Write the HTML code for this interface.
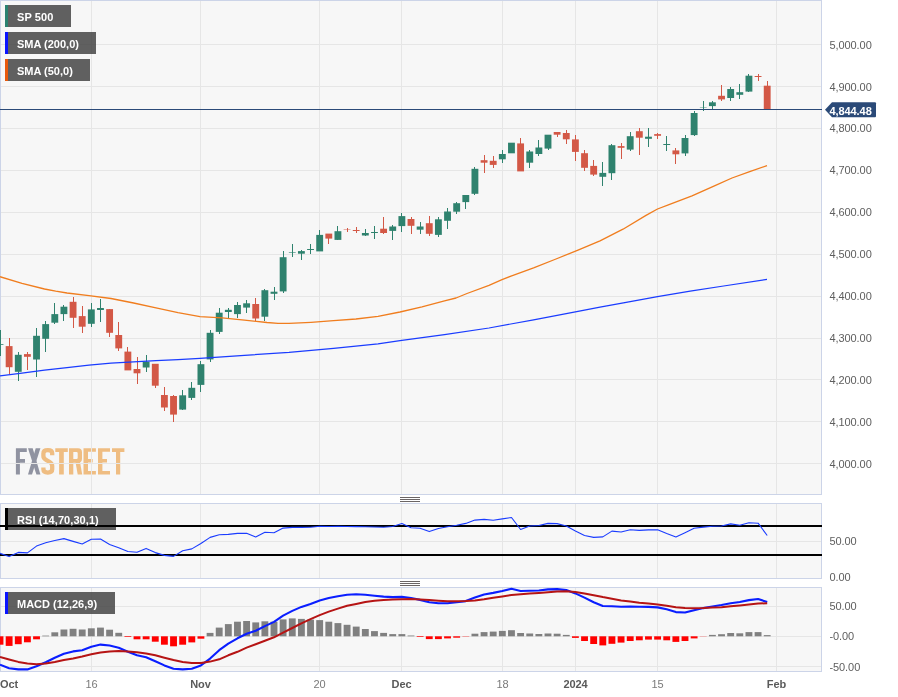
<!DOCTYPE html>
<html><head><meta charset="utf-8"><title>SP 500</title>
<style>html,body{margin:0;padding:0;background:#fff;overflow:hidden}body{width:898px;height:697px;font-family:"Liberation Sans",sans-serif}</style>
</head><body>
<svg width="898" height="697" viewBox="0 0 898 697" style="display:block;font-family:'Liberation Sans',sans-serif">
<rect width="898" height="697" fill="#fff"/>
<g shape-rendering="crispEdges">
<rect x="0" y="0" width="822" height="495" fill="#f7f7f7"/>
</g><g fill="#9093a1">
<path d="M15.9,448.3 H26.8 V452 H19.9 V459 H25 V462.7 H19.9 V474.4 H15.9 Z"/>
<path d="M28,448.3 H32.7 L40.4,474.4 H36.4 Z"/>
<path d="M35.7,448.3 H40.4 L32,474.4 H28 Z"/>
</g>
<g fill="#efbd82">
<path d="M52.2,455.2 V453.5 C52.2,451.2 50.5,450.2 47.8,450.2 C45.1,450.2 43.4,451.2 43.4,453.5 V456 C43.4,458 44.5,459 46,459.8 L49.8,462 C51.3,462.9 52.2,464 52.2,466 V469.3 C52.2,471.6 50.5,472.6 47.8,472.6 C45.1,472.6 43.4,471.6 43.4,469.3 V467.5" fill="none" stroke="#efbd82" stroke-width="4.3"/>
<path d="M55.3,448.3 H67.8 V452 H63.8 V474.4 H59.1 V452 H55.3 Z"/>
<path fill-rule="evenodd" d="M69,448.3 H78 Q82,448.3 82,452.3 V458.7 Q82,462.7 78,462.7 H73.3 V474.4 H69 Z M73.3,452 V459 H76.5 Q77.7,459 77.7,457.8 V453.2 Q77.7,452 76.5,452 Z"/>
<path d="M75.5,462 H80 L82.2,474.4 H77.7 Z"/>
<path d="M83.5,448.3 H95.9 V451.8 H88 V459 H92.7 V462.6 H88 V471 H95.9 V474.4 H83.5 Z"/>
<path d="M98,448.3 H110 V451.8 H102.4 V459 H107 V462.6 H102.4 V471 H110 V474.4 H98 Z"/>
<path d="M112,448.3 H124.4 V452 H120.2 V474.4 H116 V452 H112 Z"/>
</g>
<g shape-rendering="crispEdges">
<rect x="91" y="0" width="1" height="495" fill="#e6e6e6"/>
<rect x="200" y="0" width="1" height="495" fill="#e6e6e6"/>
<rect x="319" y="0" width="1" height="495" fill="#e6e6e6"/>
<rect x="401" y="0" width="1" height="495" fill="#e6e6e6"/>
<rect x="502" y="0" width="1" height="495" fill="#e6e6e6"/>
<rect x="575" y="0" width="1" height="495" fill="#e6e6e6"/>
<rect x="657" y="0" width="1" height="495" fill="#e6e6e6"/>
<rect x="776" y="0" width="1" height="495" fill="#e6e6e6"/>
<rect x="0" y="44" width="822" height="1" fill="#e6e6e6"/>
<rect x="0" y="86" width="822" height="1" fill="#e6e6e6"/>
<rect x="0" y="128" width="822" height="1" fill="#e6e6e6"/>
<rect x="0" y="170" width="822" height="1" fill="#e6e6e6"/>
<rect x="0" y="212" width="822" height="1" fill="#e6e6e6"/>
<rect x="0" y="254" width="822" height="1" fill="#e6e6e6"/>
<rect x="0" y="296" width="822" height="1" fill="#e6e6e6"/>
<rect x="0" y="338" width="822" height="1" fill="#e6e6e6"/>
<rect x="0" y="379" width="822" height="1" fill="#e6e6e6"/>
<rect x="0" y="421" width="822" height="1" fill="#e6e6e6"/>
<rect x="0" y="463" width="822" height="1" fill="#e6e6e6"/>
<rect x="0" y="0" width="822" height="1" fill="#ccd4e8"/>
<rect x="0" y="494" width="822" height="1" fill="#ccd4e8"/>
<rect x="0" y="0" width="1" height="495" fill="#ccd4e8"/>
<rect x="821" y="0" width="1" height="495" fill="#ccd4e8"/>
<rect x="0" y="503" width="822" height="76" fill="#f7f7f7"/>
<rect x="91" y="503" width="1" height="76" fill="#e6e6e6"/>
<rect x="200" y="503" width="1" height="76" fill="#e6e6e6"/>
<rect x="319" y="503" width="1" height="76" fill="#e6e6e6"/>
<rect x="401" y="503" width="1" height="76" fill="#e6e6e6"/>
<rect x="502" y="503" width="1" height="76" fill="#e6e6e6"/>
<rect x="575" y="503" width="1" height="76" fill="#e6e6e6"/>
<rect x="657" y="503" width="1" height="76" fill="#e6e6e6"/>
<rect x="776" y="503" width="1" height="76" fill="#e6e6e6"/>
<rect x="0" y="541" width="822" height="1" fill="#e6e6e6"/>
<rect x="0" y="503" width="822" height="1" fill="#ccd4e8"/>
<rect x="0" y="578" width="822" height="1" fill="#ccd4e8"/>
<rect x="0" y="503" width="1" height="76" fill="#ccd4e8"/>
<rect x="821" y="503" width="1" height="76" fill="#ccd4e8"/>
<rect x="0" y="587" width="822" height="85" fill="#f7f7f7"/>
<rect x="91" y="587" width="1" height="85" fill="#e6e6e6"/>
<rect x="200" y="587" width="1" height="85" fill="#e6e6e6"/>
<rect x="319" y="587" width="1" height="85" fill="#e6e6e6"/>
<rect x="401" y="587" width="1" height="85" fill="#e6e6e6"/>
<rect x="502" y="587" width="1" height="85" fill="#e6e6e6"/>
<rect x="575" y="587" width="1" height="85" fill="#e6e6e6"/>
<rect x="657" y="587" width="1" height="85" fill="#e6e6e6"/>
<rect x="776" y="587" width="1" height="85" fill="#e6e6e6"/>
<rect x="0" y="606" width="822" height="1" fill="#e6e6e6"/>
<rect x="0" y="636" width="822" height="1" fill="#e6e6e6"/>
<rect x="0" y="666" width="822" height="1" fill="#e6e6e6"/>
<rect x="0" y="587" width="822" height="1" fill="#ccd4e8"/>
<rect x="0" y="671" width="822" height="1" fill="#ccd4e8"/>
<rect x="0" y="587" width="1" height="85" fill="#ccd4e8"/>
<rect x="821" y="587" width="1" height="85" fill="#ccd4e8"/>
</g>
<rect x="0" y="330" width="1" height="26" fill="#2f826e" shape-rendering="crispEdges"/>
<rect x="-3.43" y="344" width="6.86" height="1" fill="#2f826e" opacity="0.8"/>
<rect x="9" y="338" width="1" height="36" fill="#d35846" shape-rendering="crispEdges"/>
<rect x="5.70" y="346.1" width="6.86" height="21.1" fill="#d35846"/>
<rect x="18" y="352" width="1" height="29" fill="#2f826e" shape-rendering="crispEdges"/>
<rect x="14.84" y="354.8" width="6.86" height="17.0" fill="#2f826e"/>
<rect x="27" y="352" width="1" height="18" fill="#d35846" shape-rendering="crispEdges"/>
<rect x="23.97" y="354.1" width="6.86" height="2.7" fill="#d35846"/>
<rect x="36" y="328" width="1" height="49" fill="#2f826e" shape-rendering="crispEdges"/>
<rect x="33.10" y="335.8" width="6.86" height="23.7" fill="#2f826e"/>
<rect x="45" y="321" width="1" height="31" fill="#2f826e" shape-rendering="crispEdges"/>
<rect x="42.24" y="324.1" width="6.86" height="14.7" fill="#2f826e"/>
<rect x="54" y="303" width="1" height="21" fill="#2f826e" shape-rendering="crispEdges"/>
<rect x="51.37" y="314.1" width="6.86" height="8.6" fill="#2f826e"/>
<rect x="63" y="305" width="1" height="16" fill="#2f826e" shape-rendering="crispEdges"/>
<rect x="60.50" y="306.7" width="6.86" height="7.4" fill="#2f826e"/>
<rect x="73" y="297" width="1" height="31" fill="#d35846" shape-rendering="crispEdges"/>
<rect x="69.64" y="301.8" width="6.86" height="16.0" fill="#d35846"/>
<rect x="82" y="306" width="1" height="27" fill="#d35846" shape-rendering="crispEdges"/>
<rect x="78.77" y="316.1" width="6.86" height="10.6" fill="#d35846"/>
<rect x="91" y="303" width="1" height="24" fill="#2f826e" shape-rendering="crispEdges"/>
<rect x="87.90" y="309.4" width="6.86" height="14.4" fill="#2f826e"/>
<rect x="100" y="299" width="1" height="23" fill="#2f826e" shape-rendering="crispEdges"/>
<rect x="97.04" y="308.0" width="6.86" height="2.0" fill="#2f826e"/>
<rect x="109" y="309" width="1" height="28" fill="#d35846" shape-rendering="crispEdges"/>
<rect x="106.17" y="309.1" width="6.86" height="23.7" fill="#d35846"/>
<rect x="118" y="322" width="1" height="29" fill="#d35846" shape-rendering="crispEdges"/>
<rect x="115.30" y="335.0" width="6.86" height="13.4" fill="#d35846"/>
<rect x="127" y="347" width="1" height="23" fill="#d35846" shape-rendering="crispEdges"/>
<rect x="124.44" y="351.6" width="6.86" height="18.8" fill="#d35846"/>
<rect x="137" y="357" width="1" height="27" fill="#d35846" shape-rendering="crispEdges"/>
<rect x="133.57" y="369.0" width="6.86" height="4.3" fill="#d35846"/>
<rect x="146" y="355" width="1" height="17" fill="#2f826e" shape-rendering="crispEdges"/>
<rect x="142.70" y="361.7" width="6.86" height="5.8" fill="#2f826e"/>
<rect x="155" y="364" width="1" height="24" fill="#d35846" shape-rendering="crispEdges"/>
<rect x="151.84" y="363.8" width="6.86" height="21.9" fill="#d35846"/>
<rect x="164" y="387" width="1" height="24" fill="#d35846" shape-rendering="crispEdges"/>
<rect x="160.97" y="395.0" width="6.86" height="12.5" fill="#d35846"/>
<rect x="173" y="395" width="1" height="27" fill="#d35846" shape-rendering="crispEdges"/>
<rect x="170.10" y="396.0" width="6.86" height="18.6" fill="#d35846"/>
<rect x="182" y="390" width="1" height="20" fill="#2f826e" shape-rendering="crispEdges"/>
<rect x="179.24" y="395.3" width="6.86" height="14.3" fill="#2f826e"/>
<rect x="191" y="382" width="1" height="18" fill="#2f826e" shape-rendering="crispEdges"/>
<rect x="188.37" y="387.8" width="6.86" height="10.1" fill="#2f826e"/>
<rect x="200" y="361" width="1" height="31" fill="#2f826e" shape-rendering="crispEdges"/>
<rect x="197.50" y="364.2" width="6.86" height="20.7" fill="#2f826e"/>
<rect x="210" y="330" width="1" height="32" fill="#2f826e" shape-rendering="crispEdges"/>
<rect x="206.64" y="332.8" width="6.86" height="26.6" fill="#2f826e"/>
<rect x="219" y="308" width="1" height="26" fill="#2f826e" shape-rendering="crispEdges"/>
<rect x="215.77" y="312.7" width="6.86" height="19.2" fill="#2f826e"/>
<rect x="228" y="308" width="1" height="10" fill="#2f826e" shape-rendering="crispEdges"/>
<rect x="224.90" y="309.8" width="6.86" height="2.2" fill="#2f826e"/>
<rect x="237" y="302" width="1" height="16" fill="#2f826e" shape-rendering="crispEdges"/>
<rect x="234.04" y="305.0" width="6.86" height="9.1" fill="#2f826e"/>
<rect x="246" y="300" width="1" height="13" fill="#2f826e" shape-rendering="crispEdges"/>
<rect x="243.17" y="303.3" width="6.86" height="4.3" fill="#2f826e"/>
<rect x="255" y="298" width="1" height="23" fill="#d35846" shape-rendering="crispEdges"/>
<rect x="252.30" y="304.0" width="6.86" height="14.5" fill="#d35846"/>
<rect x="264" y="289" width="1" height="32" fill="#2f826e" shape-rendering="crispEdges"/>
<rect x="261.44" y="290.2" width="6.86" height="26.5" fill="#2f826e"/>
<rect x="274" y="287" width="1" height="13" fill="#2f826e" shape-rendering="crispEdges"/>
<rect x="270.57" y="291.7" width="6.86" height="2.1" fill="#2f826e"/>
<rect x="283" y="251" width="1" height="42" fill="#2f826e" shape-rendering="crispEdges"/>
<rect x="279.70" y="257.2" width="6.86" height="34.2" fill="#2f826e"/>
<rect x="292" y="244" width="1" height="13" fill="#2f826e" shape-rendering="crispEdges"/>
<rect x="288.84" y="252" width="6.86" height="1" fill="#2f826e" opacity="0.6"/>
<rect x="301" y="250" width="1" height="10" fill="#2f826e" shape-rendering="crispEdges"/>
<rect x="297.97" y="251.1" width="6.86" height="2.6" fill="#2f826e"/>
<rect x="310" y="244" width="1" height="10" fill="#2f826e" shape-rendering="crispEdges"/>
<rect x="307.10" y="249" width="6.86" height="1" fill="#2f826e"/>
<rect x="319" y="230" width="1" height="21" fill="#2f826e" shape-rendering="crispEdges"/>
<rect x="316.24" y="234.9" width="6.86" height="16.5" fill="#2f826e"/>
<rect x="328" y="234" width="1" height="10" fill="#d35846" shape-rendering="crispEdges"/>
<rect x="325.37" y="233.6" width="6.86" height="5.0" fill="#d35846"/>
<rect x="337" y="226" width="1" height="14" fill="#2f826e" shape-rendering="crispEdges"/>
<rect x="334.50" y="231.2" width="6.86" height="8.7" fill="#2f826e"/>
<rect x="347" y="228" width="1" height="4" fill="#d35846" shape-rendering="crispEdges"/>
<rect x="343.64" y="229" width="6.86" height="1" fill="#d35846" opacity="0.45"/>
<rect x="356" y="227" width="1" height="6" fill="#d35846" shape-rendering="crispEdges"/>
<rect x="352.77" y="230" width="6.86" height="1" fill="#d35846"/>
<rect x="365" y="229" width="1" height="7" fill="#2f826e" shape-rendering="crispEdges"/>
<rect x="361.90" y="233.0" width="6.86" height="2.5" fill="#2f826e"/>
<rect x="374" y="226" width="1" height="13" fill="#2f826e" shape-rendering="crispEdges"/>
<rect x="371.04" y="232" width="6.86" height="1" fill="#2f826e"/>
<rect x="383" y="217" width="1" height="17" fill="#d35846" shape-rendering="crispEdges"/>
<rect x="380.17" y="228.7" width="6.86" height="4.3" fill="#d35846"/>
<rect x="392" y="225" width="1" height="15" fill="#2f826e" shape-rendering="crispEdges"/>
<rect x="389.30" y="226.5" width="6.86" height="4.4" fill="#2f826e"/>
<rect x="401" y="213" width="1" height="19" fill="#2f826e" shape-rendering="crispEdges"/>
<rect x="398.44" y="216.1" width="6.86" height="10.0" fill="#2f826e"/>
<rect x="411" y="217" width="1" height="17" fill="#d35846" shape-rendering="crispEdges"/>
<rect x="407.57" y="219.0" width="6.86" height="6.8" fill="#d35846"/>
<rect x="420" y="222" width="1" height="12" fill="#2f826e" shape-rendering="crispEdges"/>
<rect x="416.70" y="226.5" width="6.86" height="3.2" fill="#2f826e"/>
<rect x="429" y="216" width="1" height="20" fill="#d35846" shape-rendering="crispEdges"/>
<rect x="425.84" y="223.2" width="6.86" height="10.6" fill="#d35846"/>
<rect x="438" y="217" width="1" height="20" fill="#2f826e" shape-rendering="crispEdges"/>
<rect x="434.97" y="219.3" width="6.86" height="15.6" fill="#2f826e"/>
<rect x="447" y="208" width="1" height="21" fill="#2f826e" shape-rendering="crispEdges"/>
<rect x="444.10" y="211.5" width="6.86" height="9.3" fill="#2f826e"/>
<rect x="456" y="202" width="1" height="12" fill="#2f826e" shape-rendering="crispEdges"/>
<rect x="453.24" y="203.2" width="6.86" height="8.5" fill="#2f826e"/>
<rect x="465" y="195" width="1" height="14" fill="#2f826e" shape-rendering="crispEdges"/>
<rect x="462.37" y="195.0" width="6.86" height="7.1" fill="#2f826e"/>
<rect x="474" y="167" width="1" height="28" fill="#2f826e" shape-rendering="crispEdges"/>
<rect x="471.50" y="168.8" width="6.86" height="25.0" fill="#2f826e"/>
<rect x="484" y="155" width="1" height="18" fill="#d35846" shape-rendering="crispEdges"/>
<rect x="480.64" y="160.2" width="6.86" height="2.5" fill="#d35846"/>
<rect x="493" y="156" width="1" height="12" fill="#d35846" shape-rendering="crispEdges"/>
<rect x="489.77" y="160.8" width="6.86" height="4.1" fill="#d35846"/>
<rect x="502" y="150" width="1" height="13" fill="#2f826e" shape-rendering="crispEdges"/>
<rect x="498.90" y="154.0" width="6.86" height="5.3" fill="#2f826e"/>
<rect x="511" y="143" width="1" height="10" fill="#2f826e" shape-rendering="crispEdges"/>
<rect x="508.04" y="142.7" width="6.86" height="10.6" fill="#2f826e"/>
<rect x="520" y="138" width="1" height="33" fill="#d35846" shape-rendering="crispEdges"/>
<rect x="517.17" y="143.4" width="6.86" height="28.0" fill="#d35846"/>
<rect x="529" y="150" width="1" height="18" fill="#2f826e" shape-rendering="crispEdges"/>
<rect x="526.30" y="151.5" width="6.86" height="11.2" fill="#2f826e"/>
<rect x="538" y="140" width="1" height="16" fill="#2f826e" shape-rendering="crispEdges"/>
<rect x="535.44" y="147.5" width="6.86" height="6.5" fill="#2f826e"/>
<rect x="548" y="135" width="1" height="15" fill="#2f826e" shape-rendering="crispEdges"/>
<rect x="544.57" y="134.7" width="6.86" height="13.9" fill="#2f826e"/>
<rect x="557" y="132" width="1" height="5" fill="#d35846" shape-rendering="crispEdges"/>
<rect x="553.70" y="132.0" width="6.86" height="2.7" fill="#d35846"/>
<rect x="566" y="130" width="1" height="14" fill="#d35846" shape-rendering="crispEdges"/>
<rect x="562.84" y="133.0" width="6.86" height="6.3" fill="#d35846"/>
<rect x="575" y="135" width="1" height="26" fill="#d35846" shape-rendering="crispEdges"/>
<rect x="571.97" y="139.4" width="6.86" height="12.5" fill="#d35846"/>
<rect x="584" y="150" width="1" height="21" fill="#d35846" shape-rendering="crispEdges"/>
<rect x="581.10" y="153.2" width="6.86" height="14.6" fill="#d35846"/>
<rect x="593" y="160" width="1" height="16" fill="#d35846" shape-rendering="crispEdges"/>
<rect x="590.24" y="165.9" width="6.86" height="8.7" fill="#d35846"/>
<rect x="602" y="162" width="1" height="24" fill="#2f826e" shape-rendering="crispEdges"/>
<rect x="599.37" y="172.9" width="6.86" height="3.9" fill="#2f826e"/>
<rect x="611" y="144" width="1" height="36" fill="#2f826e" shape-rendering="crispEdges"/>
<rect x="608.50" y="145.2" width="6.86" height="28.0" fill="#2f826e"/>
<rect x="621" y="143" width="1" height="16" fill="#d35846" shape-rendering="crispEdges"/>
<rect x="617.64" y="146.1" width="6.86" height="1.7" fill="#d35846"/>
<rect x="630" y="132" width="1" height="19" fill="#2f826e" shape-rendering="crispEdges"/>
<rect x="626.77" y="136.2" width="6.86" height="13.4" fill="#2f826e"/>
<rect x="639" y="128" width="1" height="27" fill="#d35846" shape-rendering="crispEdges"/>
<rect x="635.90" y="131.2" width="6.86" height="6.5" fill="#d35846"/>
<rect x="648" y="128" width="1" height="19" fill="#2f826e" shape-rendering="crispEdges"/>
<rect x="645.04" y="136.7" width="6.86" height="2.1" fill="#2f826e"/>
<rect x="657" y="133" width="1" height="6" fill="#d35846" shape-rendering="crispEdges"/>
<rect x="654.17" y="134.1" width="6.86" height="1.7" fill="#d35846"/>
<rect x="666" y="136" width="1" height="15" fill="#2f826e" shape-rendering="crispEdges"/>
<rect x="663.30" y="144" width="6.86" height="1" fill="#2f826e"/>
<rect x="675" y="148" width="1" height="16" fill="#d35846" shape-rendering="crispEdges"/>
<rect x="672.44" y="150.4" width="6.86" height="3.9" fill="#d35846"/>
<rect x="685" y="135" width="1" height="21" fill="#2f826e" shape-rendering="crispEdges"/>
<rect x="681.57" y="138.0" width="6.86" height="15.4" fill="#2f826e"/>
<rect x="694" y="111" width="1" height="25" fill="#2f826e" shape-rendering="crispEdges"/>
<rect x="690.70" y="113.0" width="6.86" height="22.1" fill="#2f826e"/>
<rect x="703" y="101" width="1" height="10" fill="#2f826e" shape-rendering="crispEdges"/>
<rect x="699.84" y="107" width="6.86" height="1" fill="#2f826e" opacity="0.4"/>
<rect x="712" y="101" width="1" height="8" fill="#2f826e" shape-rendering="crispEdges"/>
<rect x="708.97" y="102.3" width="6.86" height="3.8" fill="#2f826e"/>
<rect x="721" y="85" width="1" height="16" fill="#d35846" shape-rendering="crispEdges"/>
<rect x="718.10" y="95.8" width="6.86" height="3.6" fill="#d35846"/>
<rect x="730" y="87" width="1" height="14" fill="#2f826e" shape-rendering="crispEdges"/>
<rect x="727.24" y="89.0" width="6.86" height="9.0" fill="#2f826e"/>
<rect x="739" y="84" width="1" height="15" fill="#2f826e" shape-rendering="crispEdges"/>
<rect x="736.37" y="92.2" width="6.86" height="2.6" fill="#2f826e"/>
<rect x="748" y="74" width="1" height="18" fill="#2f826e" shape-rendering="crispEdges"/>
<rect x="745.50" y="75.7" width="6.86" height="15.9" fill="#2f826e"/>
<rect x="758" y="74" width="1" height="7" fill="#d35846" shape-rendering="crispEdges"/>
<rect x="754.64" y="76" width="6.86" height="1" fill="#d35846"/>
<rect x="767" y="81" width="1" height="28" fill="#d35846" shape-rendering="crispEdges"/>
<rect x="763.77" y="85.7" width="6.86" height="23.6" fill="#d35846"/>
<path d="M0.0,375.8 L22.0,373.1 L44.5,370.2 L67.0,367.6 L89.0,365.1 L111.0,363.1 L133.6,361.8 L156.0,360.7 L178.0,359.6 L200.0,358.4 L244.5,355.3 L289.0,352.4 L333.6,348.4 L378.0,343.9 L400.0,340.7 L444.5,334.7 L489.0,328.0 L533.6,319.8 L578.0,311.3 L600.0,307.2 L623.4,302.8 L657.5,296.6 L690.2,291.2 L723.6,286.0 L767.0,279.4" fill="none" stroke="#1a3cff" stroke-width="1.2" stroke-linejoin="round"/>
<path d="M0.0,276.7 L22.0,283.4 L44.5,289.0 L55.7,291.2 L67.0,293.0 L89.0,295.6 L111.0,298.5 L133.6,303.0 L156.0,307.9 L178.0,312.6 L200.0,316.6 L222.0,317.8 L244.5,320.1 L267.0,322.5 L278.0,323.4 L289.0,323.4 L311.0,322.3 L333.6,320.7 L356.0,319.0 L378.0,316.3 L400.0,312.0 L422.0,306.9 L444.5,300.8 L456.0,298.0 L467.0,293.5 L489.0,285.3 L502.0,279.7 L511.0,276.1 L533.6,267.9 L556.0,259.0 L578.0,250.1 L600.0,240.9 L623.0,229.2 L646.0,215.4 L657.5,209.0 L669.0,204.6 L692.0,195.9 L715.0,185.6 L732.0,178.0 L749.0,171.8 L767.0,165.6" fill="none" stroke="#f07d1e" stroke-width="1.3" stroke-linejoin="round"/>
<rect x="0" y="109" width="822" height="1" fill="#2b4a78" shape-rendering="crispEdges"/>
<rect x="-3.43" y="636.3" width="6.86" height="8.4" fill="#ff0000"/>
<rect x="5.70" y="636.3" width="6.86" height="9.6" fill="#ff0000"/>
<rect x="14.84" y="636.3" width="6.86" height="7.9" fill="#ff0000"/>
<rect x="23.97" y="636.3" width="6.86" height="6.0" fill="#ff0000"/>
<rect x="33.10" y="636.3" width="6.86" height="3.0" fill="#ff0000"/>
<rect x="42.24" y="635.6" width="6.86" height="0.7" fill="#808080"/>
<rect x="51.37" y="632.3" width="6.86" height="4.0" fill="#808080"/>
<rect x="60.50" y="629.5" width="6.86" height="6.8" fill="#808080"/>
<rect x="69.64" y="628.8" width="6.86" height="7.5" fill="#808080"/>
<rect x="78.77" y="629.5" width="6.86" height="6.8" fill="#808080"/>
<rect x="87.90" y="628.3" width="6.86" height="8.0" fill="#808080"/>
<rect x="97.04" y="627.6" width="6.86" height="8.7" fill="#808080"/>
<rect x="106.17" y="629.7" width="6.86" height="6.6" fill="#808080"/>
<rect x="115.30" y="632.8" width="6.86" height="3.5" fill="#808080"/>
<rect x="124.44" y="636.3" width="6.86" height="0.7" fill="#ff0000"/>
<rect x="133.57" y="636.3" width="6.86" height="3.0" fill="#ff0000"/>
<rect x="142.70" y="636.3" width="6.86" height="3.0" fill="#ff0000"/>
<rect x="151.84" y="636.3" width="6.86" height="5.4" fill="#ff0000"/>
<rect x="160.97" y="636.3" width="6.86" height="8.4" fill="#ff0000"/>
<rect x="170.10" y="636.3" width="6.86" height="10.0" fill="#ff0000"/>
<rect x="179.24" y="636.3" width="6.86" height="8.4" fill="#ff0000"/>
<rect x="188.37" y="636.3" width="6.86" height="6.1" fill="#ff0000"/>
<rect x="197.50" y="636.3" width="6.86" height="2.4" fill="#ff0000"/>
<rect x="206.64" y="632.9" width="6.86" height="3.4" fill="#808080"/>
<rect x="215.77" y="627.6" width="6.86" height="8.7" fill="#808080"/>
<rect x="224.90" y="624.1" width="6.86" height="12.2" fill="#808080"/>
<rect x="234.04" y="621.7" width="6.86" height="14.6" fill="#808080"/>
<rect x="243.17" y="621.0" width="6.86" height="15.3" fill="#808080"/>
<rect x="252.30" y="622.4" width="6.86" height="13.9" fill="#808080"/>
<rect x="261.44" y="621.3" width="6.86" height="15.0" fill="#808080"/>
<rect x="270.57" y="621.7" width="6.86" height="14.6" fill="#808080"/>
<rect x="279.70" y="619.4" width="6.86" height="16.9" fill="#808080"/>
<rect x="288.84" y="618.4" width="6.86" height="17.9" fill="#808080"/>
<rect x="297.97" y="618.9" width="6.86" height="17.4" fill="#808080"/>
<rect x="307.10" y="619.6" width="6.86" height="16.7" fill="#808080"/>
<rect x="316.24" y="620.1" width="6.86" height="16.2" fill="#808080"/>
<rect x="325.37" y="621.7" width="6.86" height="14.6" fill="#808080"/>
<rect x="334.50" y="623.1" width="6.86" height="13.2" fill="#808080"/>
<rect x="343.64" y="624.8" width="6.86" height="11.5" fill="#808080"/>
<rect x="352.77" y="626.6" width="6.86" height="9.7" fill="#808080"/>
<rect x="361.90" y="629.0" width="6.86" height="7.3" fill="#808080"/>
<rect x="371.04" y="631.1" width="6.86" height="5.2" fill="#808080"/>
<rect x="380.17" y="632.9" width="6.86" height="3.4" fill="#808080"/>
<rect x="389.30" y="634.1" width="6.86" height="2.2" fill="#808080"/>
<rect x="398.44" y="634.1" width="6.86" height="2.2" fill="#808080"/>
<rect x="407.57" y="635.5" width="6.86" height="0.8" fill="#808080"/>
<rect x="416.70" y="636.3" width="6.86" height="0.7" fill="#ff0000"/>
<rect x="425.84" y="636.3" width="6.86" height="2.8" fill="#ff0000"/>
<rect x="434.97" y="636.3" width="6.86" height="2.8" fill="#ff0000"/>
<rect x="444.10" y="636.3" width="6.86" height="2.1" fill="#ff0000"/>
<rect x="453.24" y="636.3" width="6.86" height="1.4" fill="#ff0000"/>
<rect x="462.37" y="636.3" width="6.86" height="0.3" fill="#ff0000"/>
<rect x="471.50" y="633.7" width="6.86" height="2.6" fill="#808080"/>
<rect x="480.64" y="632.1" width="6.86" height="4.2" fill="#808080"/>
<rect x="489.77" y="631.6" width="6.86" height="4.7" fill="#808080"/>
<rect x="498.90" y="630.9" width="6.86" height="5.4" fill="#808080"/>
<rect x="508.04" y="630.2" width="6.86" height="6.1" fill="#808080"/>
<rect x="517.17" y="633.0" width="6.86" height="3.3" fill="#808080"/>
<rect x="526.30" y="633.5" width="6.86" height="2.8" fill="#808080"/>
<rect x="535.44" y="634.0" width="6.86" height="2.3" fill="#808080"/>
<rect x="544.57" y="633.5" width="6.86" height="2.8" fill="#808080"/>
<rect x="553.70" y="633.7" width="6.86" height="2.6" fill="#808080"/>
<rect x="562.84" y="634.9" width="6.86" height="1.4" fill="#808080"/>
<rect x="571.97" y="636.3" width="6.86" height="1.6" fill="#ff0000"/>
<rect x="581.10" y="636.3" width="6.86" height="4.7" fill="#ff0000"/>
<rect x="590.24" y="636.3" width="6.86" height="7.7" fill="#ff0000"/>
<rect x="599.37" y="636.3" width="6.86" height="9.1" fill="#ff0000"/>
<rect x="608.50" y="636.3" width="6.86" height="7.5" fill="#ff0000"/>
<rect x="617.64" y="636.3" width="6.86" height="6.3" fill="#ff0000"/>
<rect x="626.77" y="636.3" width="6.86" height="4.7" fill="#ff0000"/>
<rect x="635.90" y="636.3" width="6.86" height="4.0" fill="#ff0000"/>
<rect x="645.04" y="636.3" width="6.86" height="3.3" fill="#ff0000"/>
<rect x="654.17" y="636.3" width="6.86" height="3.3" fill="#ff0000"/>
<rect x="663.30" y="636.3" width="6.86" height="4.0" fill="#ff0000"/>
<rect x="672.44" y="636.3" width="6.86" height="5.6" fill="#ff0000"/>
<rect x="681.57" y="636.3" width="6.86" height="4.7" fill="#ff0000"/>
<rect x="690.70" y="636.3" width="6.86" height="2.1" fill="#ff0000"/>
<rect x="699.84" y="636.3" width="6.86" height="0.2" fill="#ff0000"/>
<rect x="708.97" y="634.9" width="6.86" height="1.4" fill="#808080"/>
<rect x="718.10" y="634.2" width="6.86" height="2.1" fill="#808080"/>
<rect x="727.24" y="633.0" width="6.86" height="3.3" fill="#808080"/>
<rect x="736.37" y="633.3" width="6.86" height="3.0" fill="#808080"/>
<rect x="745.50" y="632.1" width="6.86" height="4.2" fill="#808080"/>
<rect x="754.64" y="632.1" width="6.86" height="4.2" fill="#808080"/>
<rect x="763.77" y="635.1" width="6.86" height="1.2" fill="#808080"/>
<clipPath id="mc"><rect x="0" y="587" width="822" height="85"/></clipPath>
<g clip-path="url(#mc)"><path d="M0.0,664.7 L9.1,668.2 L18.3,669.4 L27.4,669.4 L36.5,666.3 L45.7,662.3 L54.8,657.7 L63.9,653.7 L73.1,651.4 L82.2,650.2 L91.3,646.7 L100.5,644.6 L109.6,645.5 L118.7,647.8 L127.9,651.8 L137.0,655.3 L146.1,657.2 L155.3,661.2 L164.4,665.4 L173.5,668.7 L182.7,669.4 L191.8,668.7 L200.9,665.4 L210.1,658.6 L219.2,650.2 L228.3,643.6 L237.5,638.3 L246.6,633.8 L255.7,630.8 L264.9,626.1 L274.0,621.9 L283.1,615.6 L292.3,610.9 L301.4,606.9 L310.5,603.9 L319.7,600.4 L328.8,598.0 L337.9,596.2 L347.1,594.8 L356.2,594.3 L365.3,594.8 L374.5,595.7 L383.6,596.6 L392.7,597.1 L401.9,596.9 L411.0,598.0 L420.1,599.9 L429.3,602.2 L438.4,603.2 L447.5,603.2 L456.7,602.2 L465.8,601.1 L474.9,597.6 L484.1,594.5 L493.2,592.9 L502.3,591.0 L511.5,588.7 L520.6,591.0 L529.7,590.8 L538.9,590.5 L548.0,589.4 L557.1,589.1 L566.3,590.1 L575.4,593.4 L584.5,597.6 L593.7,602.2 L602.8,606.0 L611.9,606.2 L621.1,606.7 L630.2,606.5 L639.3,606.7 L648.5,606.9 L657.6,607.4 L666.7,609.3 L675.9,612.1 L685.0,612.5 L694.1,610.2 L703.3,608.1 L712.4,606.5 L721.5,605.0 L730.7,603.2 L739.8,602.0 L748.9,600.1 L758.1,599.0 L767.2,602.0" fill="none" stroke="#0a1eff" stroke-width="2.1" stroke-linejoin="round"/>
<path d="M0.0,657.0 L9.1,659.5 L18.3,661.9 L27.4,663.5 L36.5,664.2 L45.7,663.5 L54.8,661.9 L63.9,660.0 L73.1,658.4 L82.2,656.5 L91.3,654.2 L100.5,652.5 L109.6,651.4 L118.7,650.9 L127.9,651.4 L137.0,652.3 L146.1,653.5 L155.3,655.3 L164.4,657.7 L173.5,660.0 L182.7,661.9 L191.8,663.0 L200.9,663.0 L210.1,661.6 L219.2,659.3 L228.3,655.3 L237.5,651.8 L246.6,647.6 L255.7,644.3 L264.9,640.8 L274.0,637.3 L283.1,632.6 L292.3,628.0 L301.4,623.3 L310.5,619.1 L319.7,615.1 L328.8,611.6 L337.9,608.6 L347.1,605.7 L356.2,603.9 L365.3,602.0 L374.5,600.8 L383.6,599.9 L392.7,599.4 L401.9,599.2 L411.0,599.0 L420.1,599.4 L429.3,600.1 L438.4,600.8 L447.5,601.3 L456.7,601.3 L465.8,601.1 L474.9,600.4 L484.1,599.2 L493.2,597.8 L502.3,596.4 L511.5,595.0 L520.6,594.3 L529.7,593.6 L538.9,592.9 L548.0,592.2 L557.1,591.5 L566.3,591.2 L575.4,592.0 L584.5,593.4 L593.7,595.2 L602.8,597.1 L611.9,598.7 L621.1,600.4 L630.2,601.5 L639.3,602.7 L648.5,603.6 L657.6,604.6 L666.7,605.7 L675.9,607.2 L685.0,608.1 L694.1,608.3 L703.3,608.1 L712.4,607.6 L721.5,607.2 L730.7,606.2 L739.8,605.5 L748.9,604.6 L758.1,603.6 L767.2,603.2" fill="none" stroke="#b61414" stroke-width="2" stroke-linejoin="round"/></g>
<g shape-rendering="crispEdges" fill="#6b6565">
<rect x="400" y="497" width="20" height="1"/>
<rect x="400" y="499" width="20" height="1"/>
<rect x="400" y="501" width="20" height="1"/>
<rect x="400" y="581" width="20" height="1"/>
<rect x="400" y="583" width="20" height="1"/>
<rect x="400" y="585" width="20" height="1"/>
</g>
<rect x="5" y="5" width="66" height="22" fill="rgba(62,62,62,0.82)" shape-rendering="crispEdges"/>
<rect x="5" y="5" width="3" height="22" fill="#2a8270" shape-rendering="crispEdges"/>
<rect x="5" y="32" width="91" height="22" fill="rgba(62,62,62,0.82)" shape-rendering="crispEdges"/>
<rect x="5" y="32" width="3" height="22" fill="#0a14ff" shape-rendering="crispEdges"/>
<rect x="5" y="59" width="85" height="22" fill="rgba(62,62,62,0.82)" shape-rendering="crispEdges"/>
<rect x="5" y="59" width="3" height="22" fill="#e8590c" shape-rendering="crispEdges"/>
<rect x="5" y="508" width="111" height="22" fill="rgba(62,62,62,0.82)" shape-rendering="crispEdges"/>
<rect x="5" y="508" width="3" height="22" fill="#000" shape-rendering="crispEdges"/>
<rect x="5" y="592" width="110" height="22" fill="rgba(62,62,62,0.82)" shape-rendering="crispEdges"/>
<rect x="5" y="592" width="3" height="22" fill="#0a14ff" shape-rendering="crispEdges"/>
<g shape-rendering="crispEdges"><rect x="0" y="525" width="822" height="2" fill="#000"/><rect x="0" y="554" width="822" height="2" fill="#000"/></g>
<path d="M0.0,553.3 L9.1,556.6 L18.3,552.4 L27.4,552.9 L36.5,546.1 L45.7,542.8 L54.8,540.5 L63.9,538.6 L73.1,541.4 L82.2,544.0 L91.3,539.3 L100.5,539.1 L109.6,544.4 L118.7,547.7 L127.9,551.5 L137.0,552.2 L146.1,548.4 L155.3,552.6 L164.4,555.4 L173.5,556.4 L182.7,550.7 L191.8,548.9 L200.9,543.5 L210.1,537.4 L219.2,534.8 L228.3,534.4 L237.5,533.4 L246.6,533.2 L255.7,537.0 L264.9,532.3 L274.0,532.7 L283.1,528.1 L292.3,527.4 L301.4,527.4 L310.5,527.2 L319.7,526.3 L328.8,526.5 L337.9,526.3 L347.1,526.5 L356.2,526.6 L365.3,526.8 L374.5,527.0 L383.6,527.2 L392.7,526.5 L401.9,523.6 L411.0,527.8 L420.1,528.3 L429.3,531.6 L438.4,528.5 L447.5,526.7 L456.7,525.3 L465.8,523.4 L474.9,520.1 L484.1,519.4 L493.2,520.3 L502.3,518.9 L511.5,517.5 L520.6,529.5 L529.7,526.0 L538.9,525.5 L548.0,523.4 L557.1,523.6 L566.3,526.0 L575.4,530.9 L584.5,535.5 L593.7,537.4 L602.8,536.9 L611.9,531.1 L621.1,532.0 L630.2,529.7 L639.3,530.4 L648.5,529.9 L657.6,529.7 L666.7,533.4 L675.9,536.9 L685.0,532.7 L694.1,528.3 L703.3,527.1 L712.4,526.2 L721.5,526.0 L730.7,523.9 L739.8,525.3 L748.9,522.7 L758.1,523.2 L767.2,535.5" fill="none" stroke="#1a3cff" stroke-width="1.1" stroke-linejoin="round"/>
<path d="M825,109.7 L832,102.3 H875 Q876,102.3 876,103.3 V116.2 Q876,117.2 875,117.2 H832 Z" fill="#2b4a78"/>
<defs><filter id="gs" x="0" y="0" width="898" height="697" filterUnits="userSpaceOnUse" color-interpolation-filters="sRGB"><feColorMatrix type="matrix" values="1 0 0 0 0 0 1 0 0 0 0 0 1 0 0 0 0 0 1 0"/></filter></defs>
<g filter="url(#gs)" letter-spacing="-0.06"><text x="17" y="21" font-size="11" font-weight="bold" fill="#fff" letter-spacing="0.1">SP 500</text><text x="17" y="48" font-size="11" font-weight="bold" fill="#fff" letter-spacing="0">SMA (200,0)</text><text x="17" y="75" font-size="11" font-weight="bold" fill="#fff" letter-spacing="0">SMA (50,0)</text><text x="17" y="524" font-size="11" font-weight="bold" fill="#fff" letter-spacing="0.07">RSI (14,70,30,1)</text><text x="17" y="608" font-size="11" font-weight="bold" fill="#fff" letter-spacing="0">MACD (12,26,9)</text><text x="829.4" y="49" font-size="11" fill="#5e5e5e">5,000.00</text><text x="829.4" y="91" font-size="11" fill="#5e5e5e">4,900.00</text><text x="829.4" y="132" font-size="11" fill="#5e5e5e">4,800.00</text><text x="829.4" y="174" font-size="11" fill="#5e5e5e">4,700.00</text><text x="829.4" y="216" font-size="11" fill="#5e5e5e">4,600.00</text><text x="829.4" y="258" font-size="11" fill="#5e5e5e">4,500.00</text><text x="829.4" y="300" font-size="11" fill="#5e5e5e">4,400.00</text><text x="829.4" y="342" font-size="11" fill="#5e5e5e">4,300.00</text><text x="829.4" y="384" font-size="11" fill="#5e5e5e">4,200.00</text><text x="829.4" y="426" font-size="11" fill="#5e5e5e">4,100.00</text><text x="829.4" y="468" font-size="11" fill="#5e5e5e">4,000.00</text><text x="829.4" y="545.4" font-size="11" fill="#5e5e5e">50.00</text><text x="829.4" y="581.4" font-size="11" fill="#5e5e5e">0.00</text><text x="829.4" y="610.4" font-size="11" fill="#5e5e5e">50.00</text><text x="829.4" y="640.4" font-size="11" fill="#5e5e5e">-0.00</text><text x="829.4" y="671.4" font-size="11" fill="#5e5e5e">-50.00</text><text x="829.4" y="115" font-size="11" font-weight="bold" fill="#fff">4,844.48</text><text x="0" y="687.6" font-size="11" font-weight="bold" fill="#5a5a5a">Oct</text><text x="91.5" y="687.6" font-size="11" text-anchor="middle" fill="#7a7a7a">16</text><text x="200.5" y="687.6" font-size="11" text-anchor="middle" font-weight="bold" fill="#5a5a5a">Nov</text><text x="319.5" y="687.6" font-size="11" text-anchor="middle" fill="#7a7a7a">20</text><text x="401.5" y="687.6" font-size="11" text-anchor="middle" font-weight="bold" fill="#5a5a5a">Dec</text><text x="502.5" y="687.6" font-size="11" text-anchor="middle" fill="#7a7a7a">18</text><text x="575.5" y="687.6" font-size="11" text-anchor="middle" font-weight="bold" fill="#5a5a5a">2024</text><text x="657.5" y="687.6" font-size="11" text-anchor="middle" fill="#7a7a7a">15</text><text x="776.5" y="687.6" font-size="11" text-anchor="middle" font-weight="bold" fill="#5a5a5a">Feb</text></g>
</svg>
</body></html>
